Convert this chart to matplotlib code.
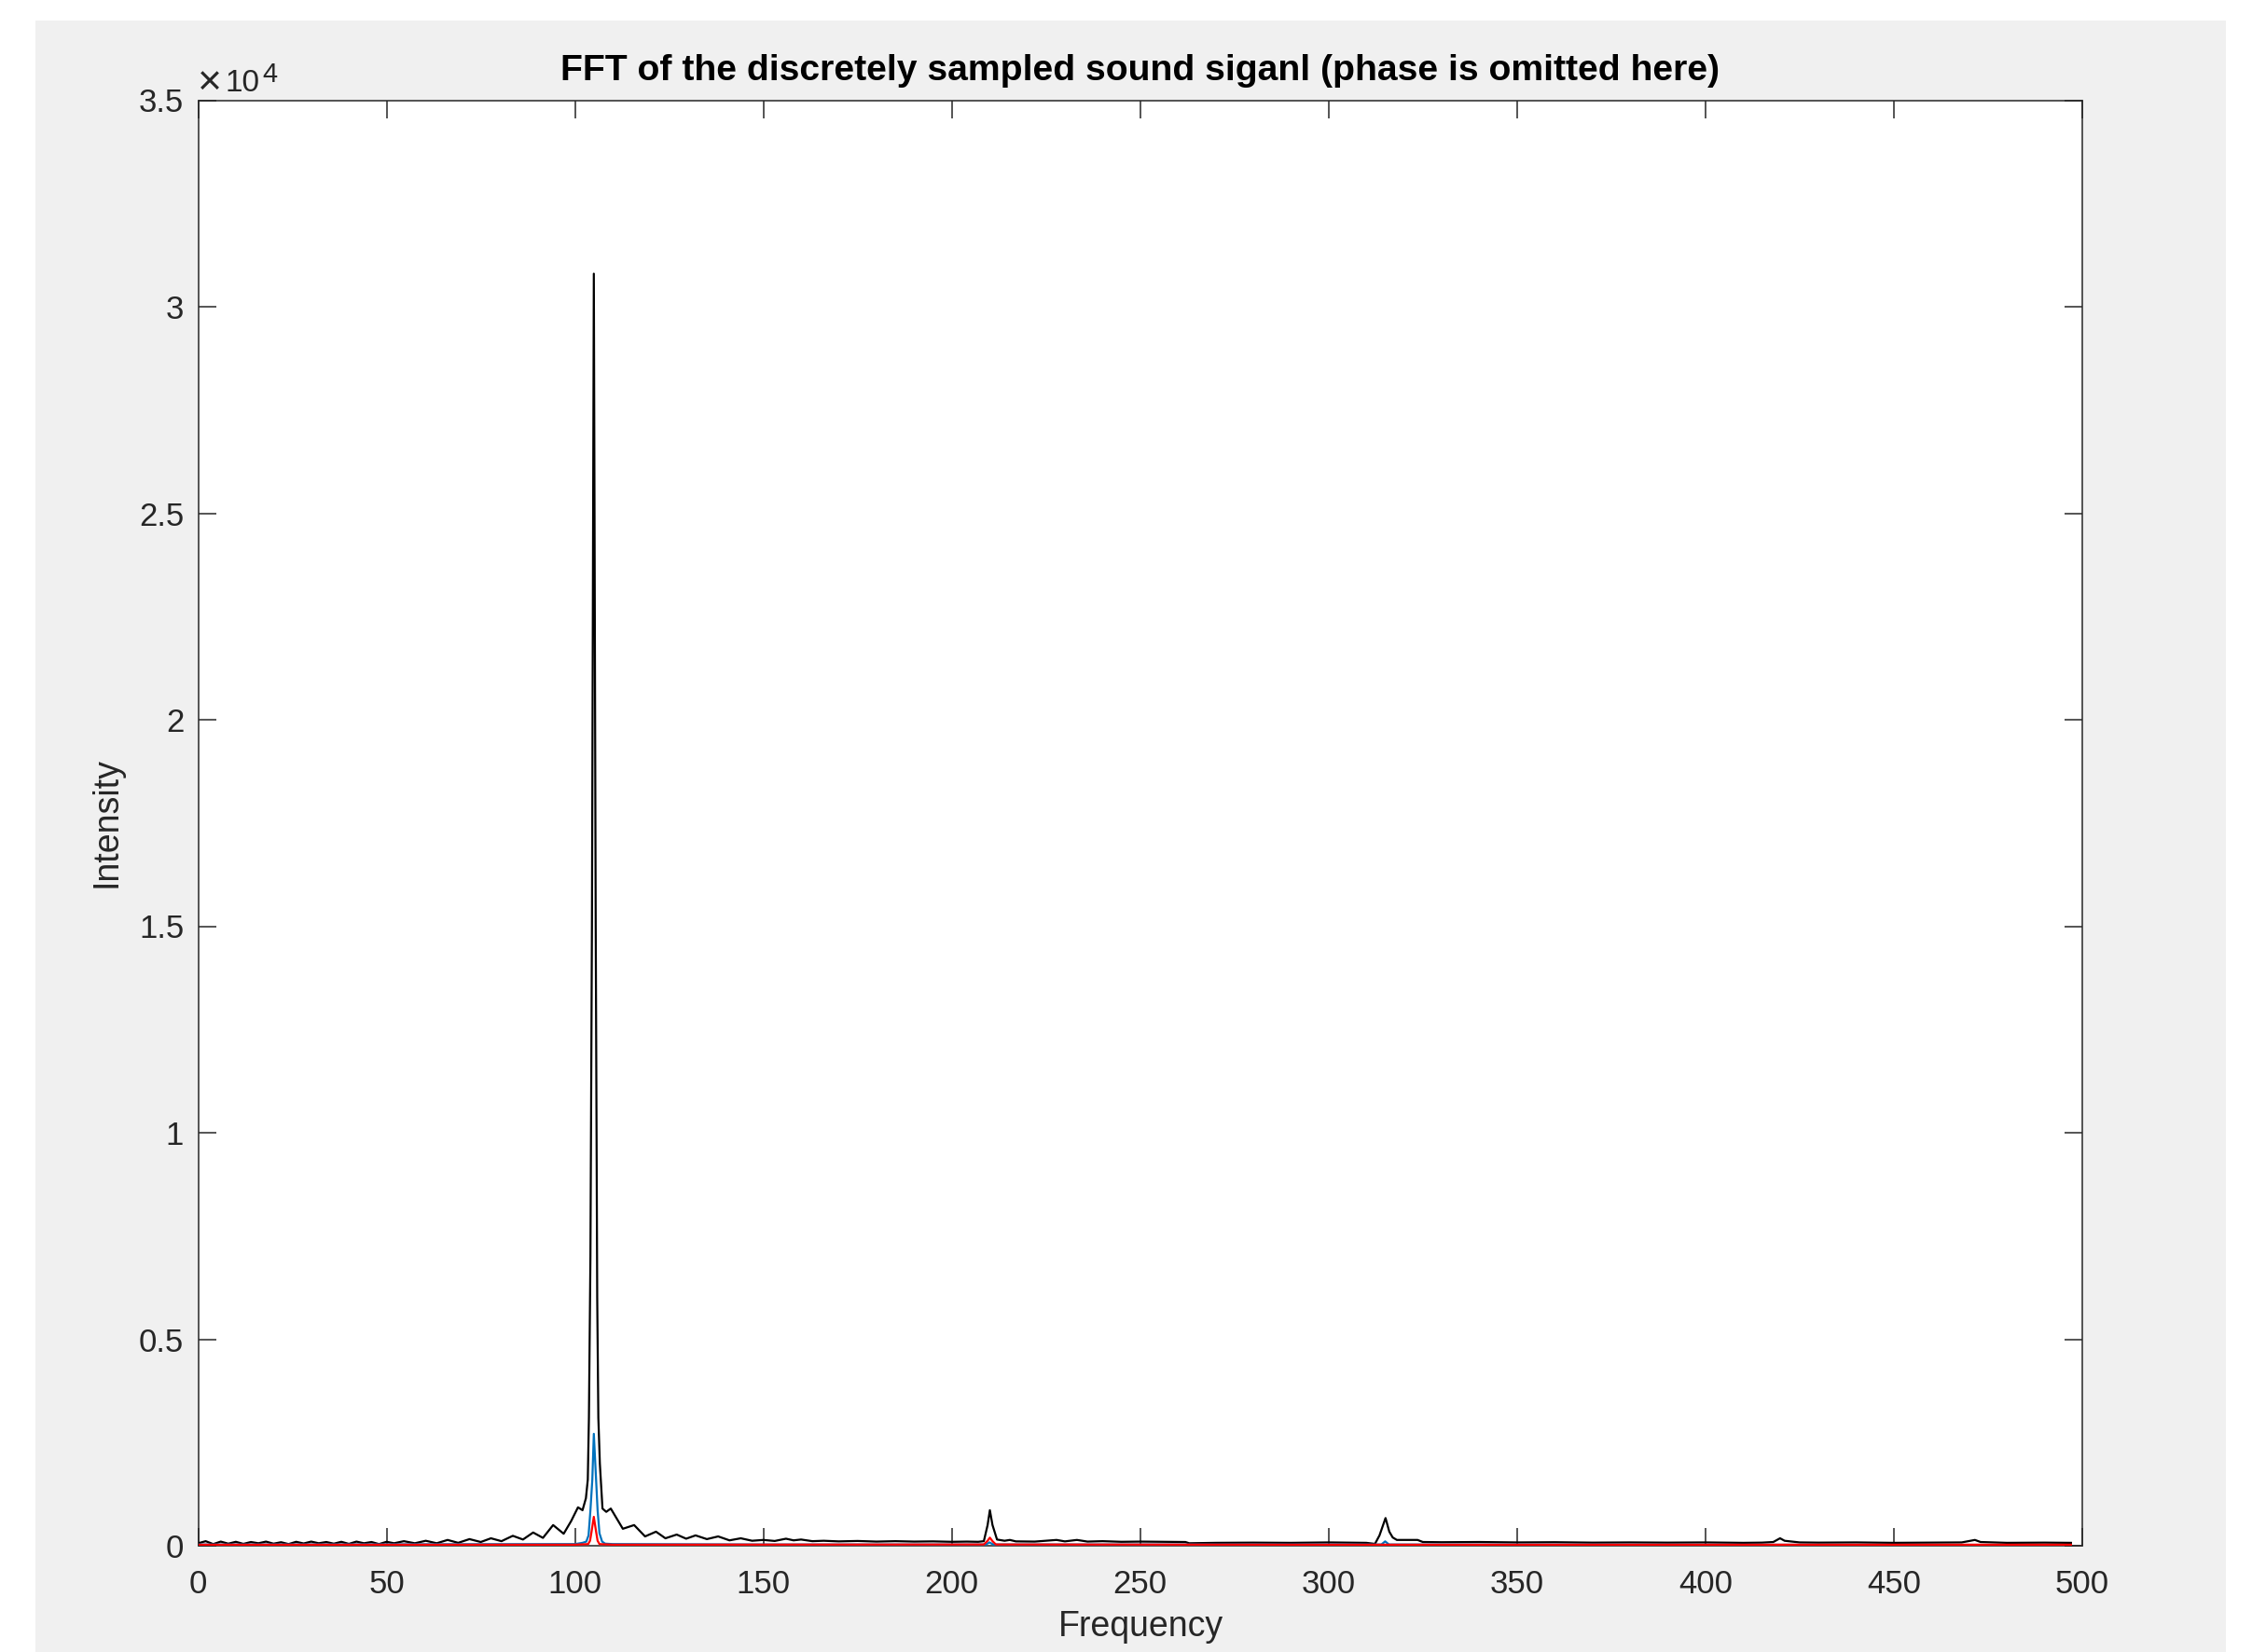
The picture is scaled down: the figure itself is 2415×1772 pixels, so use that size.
import matplotlib
matplotlib.use('Agg')
import matplotlib.pyplot as plt
from matplotlib.patches import Rectangle

plt.rcParams['font.family'] = ['Liberation Sans', 'DejaVu Sans']

# ---------------- data ----------------
black_freq = [0, 2, 4, 6, 8, 10, 12, 14, 16, 18, 20, 22, 24, 26, 28, 30, 32, 34, 36, 38,
              40, 42, 44, 46, 48, 50, 52, 54.6, 57.5, 60.4, 63.3, 66.2, 69, 72, 75, 77.7,
              80.5, 83.5, 86.2, 88.9, 91.5, 94.2, 97.0, 99.0, 100.8, 102.0, 102.9, 103.4,
              103.7, 104.1, 104.5, 105.0, 105.5, 105.9, 106.2, 106.6, 107.3, 108.3, 109.5,
              110.8, 112.7, 115.7, 118.6, 121.5, 124.0, 127.0, 129.5, 132, 135, 138, 141,
              144, 147, 150, 153, 156, 158, 160, 163, 166, 170, 175, 180, 185, 190, 195,
              200, 204, 207, 208.5, 209.5, 210.1, 210.8, 212, 214, 215.4, 217, 222, 227.8,
              230, 233.2, 236, 240, 245, 250, 256, 262, 263, 270, 280, 290, 300, 305, 310,
              312.3, 313.5, 315.1, 316.1, 317, 318.1, 321, 323.6, 325, 330, 340, 350, 360,
              370, 380, 390, 400, 410, 415, 418, 419.8, 421, 425, 430, 440, 450, 460, 468,
              471.5, 473, 480, 490, 497]
black_int = [60, 110, 40, 100, 50, 95, 45, 90, 60, 100, 50, 85, 40, 95, 55, 100, 60, 90, 50, 95,
             45, 100, 60, 90, 40, 95, 60, 110, 60, 120, 60, 140, 70, 160, 90, 180,
             110, 240, 150, 320, 190, 500, 290, 600, 930, 860, 1150, 1600,
             3100, 7000, 15000, 30800, 15000, 6000, 3100, 1990, 900, 820, 900,
             700, 410, 500, 225, 340, 180, 270, 170, 250, 160, 225, 130,
             180, 120, 140, 115, 170, 130, 150, 110, 120, 105, 115, 100, 110, 100, 105,
             95, 100, 95, 110, 500, 860, 500, 150, 120, 140, 105, 100, 140,
             105, 140, 100, 110, 95, 100, 95, 90, 60, 70, 75, 70, 80, 75, 70,
             45, 250, 670, 340, 200, 140, 140, 140, 90, 85, 90, 80, 85,
             75, 80, 75, 80, 70, 75, 90, 180, 120, 80, 75, 80, 70, 75, 80,
             140, 90, 70, 75, 70]

blue_freq = [0, 50, 100, 102.0, 103.0, 103.6, 104.1, 104.6, 105.0, 105.6, 106.0, 106.5,
             107.2, 108, 110, 150, 209, 210, 211, 314, 315, 316, 400, 497]
blue_int = [30, 35, 40, 70, 100, 250, 860, 1600, 2710, 1600, 860, 300,
            100, 50, 40, 30, 30, 80, 30, 30, 105, 30, 25, 20]

red_freq = [0, 100, 103.5, 104.0, 104.4, 105.0, 105.6, 106.0, 106.5, 110, 208.5, 209.5,
            210.1, 210.8, 211.7, 300, 497]
red_int = [25, 25, 40, 120, 340, 700, 340, 120, 40, 25, 30, 120,
           195, 110, 30, 25, 25]

x_ticks = [0, 50, 100, 150, 200, 250, 300, 350, 400, 450, 500]
y_ticks = [0, 5000, 10000, 15000, 20000, 25000, 30000, 35000]
y_tick_labels = ['0', '0.5', '1', '1.5', '2', '2.5', '3', '3.5']

title_text = 'FFT of the discretely sampled sound siganl (phase is omitted here)'
x_label = 'Frequency'
y_label = 'Intensity'

# ---------------- figure ----------------
W, H = 2415, 1772
fig = plt.figure(figsize=(W / 100, H / 100), dpi=100, facecolor='white')
fig.patches.append(Rectangle((38 / W, 0), (2387 - 38) / W, 1 - 21.5 / H,
                             transform=fig.transFigure, facecolor='#F0F0F0',
                             edgecolor='none', zorder=-10))

ax = fig.add_axes([212.5 / W, 1 - 1658 / H, (2233 - 212.5) / W, (1658 - 107.5) / H])
ax.set_facecolor('white')

ax.plot(black_freq, black_int, color='black', lw=1.6, zorder=3)
ax.plot(blue_freq, blue_int, color='#0072BD', lw=1.6, zorder=4)
ax.plot(red_freq, red_int, color='#FF0000', lw=1.6, zorder=5)

ax.set_xlim(0, 500)
ax.set_ylim(0, 35000)
ax.set_xticks(x_ticks)
ax.set_xticklabels([str(v) for v in x_ticks])
ax.set_yticks(y_ticks)
ax.set_yticklabels(y_tick_labels)

axc = '#262626'
for s in ax.spines.values():
    s.set_color(axc)
    s.set_linewidth(1.1)
ax.tick_params(axis='both', direction='in', length=14, width=1.1, color=axc,
               labelcolor=axc, labelsize=25, top=True, right=True)
ax.tick_params(axis='x', pad=18)
ax.tick_params(axis='y', pad=11)

fig.text(1223 / W, 1 - 1745 / H, x_label, ha='center', va='center', fontsize=27, color=axc)
fig.text(115 / W, 1 - 882 / H, y_label, ha='center', va='center', rotation=90,
         fontsize=27, color=axc)
fig.text(1223 / W, 1 - 76 / H, title_text, ha='center', va='center', fontsize=28.2,
         fontweight='bold', color='black')

# exponent label
fig.text(212 / W, 1 - 89 / H, '\u00d7', ha='left', va='center', fontsize=32, color=axc)
fig.text(242 / W, 1 - 97.5 / H, '10', ha='left', va='baseline', fontsize=24, color=axc)
fig.text(281 / W, 1 - 88 / H, '4', ha='left', va='baseline', fontsize=21, color=axc)

fig.savefig('out.png', dpi=100, facecolor='white')
